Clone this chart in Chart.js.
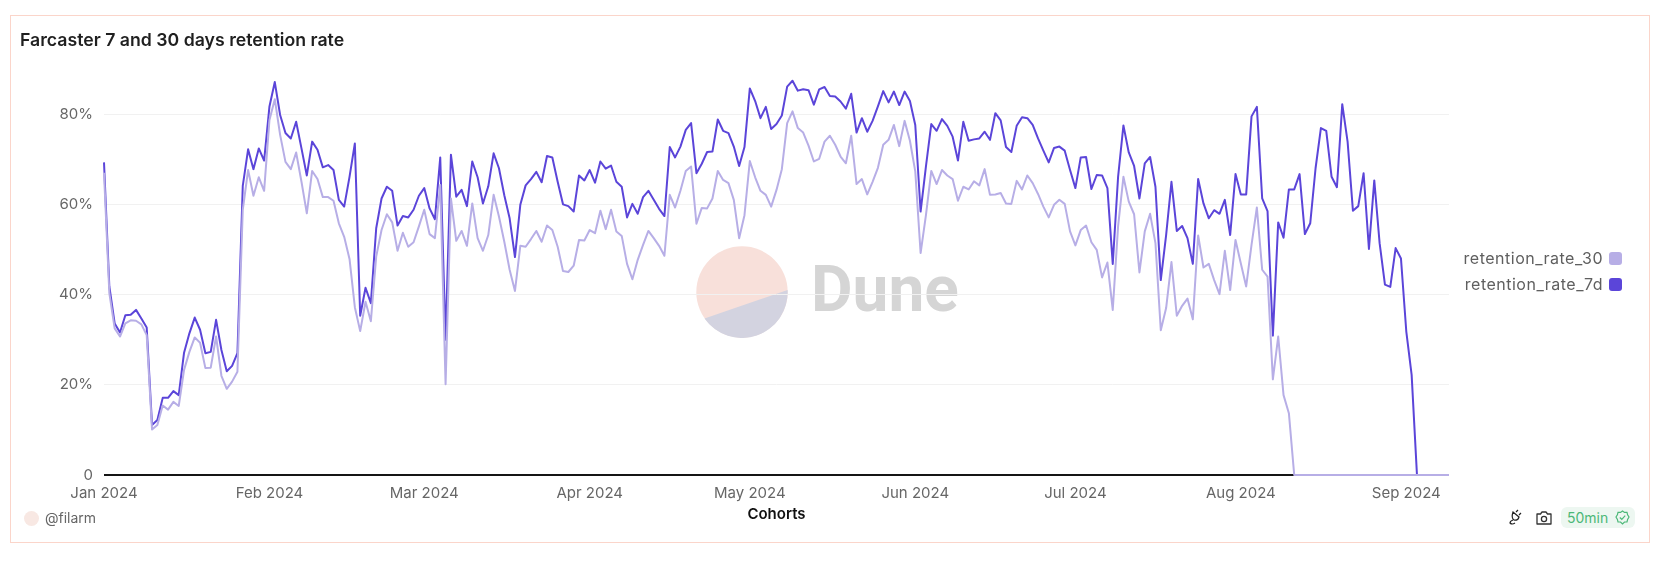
<!DOCTYPE html>
<html>
<head>
<meta charset="utf-8">
<title>Farcaster retention</title>
<script src="https://cdn.jsdelivr.net/npm/chart.js@4"></script>
<style>
  html, body { margin: 0; padding: 0; background: #fff; }
  body { width: 1672px; height: 562px; position: relative; overflow: hidden; font-family: Inter, sans-serif; }
  #frame { position: absolute; left: 10px; top: 15px; width: 1638px; height: 526px; border: 1px solid #fbd5ca; }
  #title { position: absolute; left: 20px; top: 30px; font-size: 17.7px; line-height: 20px; font-weight: 600; color: #1f1f1f; }
  #logo { position: absolute; left: 696px; top: 246px; }
  #dune { position: absolute; left: 811px; top: 251px; font-family: Roboto, sans-serif; font-size: 64px; line-height: 78px; font-weight: 700; color: #d5d5d5; }
  #chartBox { position: absolute; left: 0; top: 0; width: 1672px; height: 562px; }
  #legend { position: absolute; right: 50px; top: 245px; }
  .legend-row { display: flex; align-items: center; justify-content: flex-end; height: 26px; font-size: 16px; letter-spacing: 0.5px; color: #5f5f5f; }
  .legend-row i { display: block; width: 13px; height: 13px; border-radius: 3px; margin-left: 6px; }
  #owner { position: absolute; left: 24px; top: 510px; display: flex; align-items: center; font-size: 14px; line-height: 16px; color: #666; }
  #owner i { display: block; width: 15px; height: 15px; border-radius: 50%; background: #f8e8e3; margin-right: 6px; }
  #icons { position: absolute; left: 1507px; top: 507px; height: 21px; }
  #icons svg { position: absolute; }
  #badge { position: absolute; left: 1561px; top: 507px; width: 74px; height: 21px; border-radius: 6px; background: #edf7f1; color: #4cb878; font-size: 14px; line-height: 21px; padding-left: 6px; box-sizing: border-box; }
  #badge svg { position: absolute; right: 5px; top: 3px; }
</style>
</head>
<body>
<div id="frame"></div>
<svg id="logo" width="92" height="92" viewBox="0 0 92 92">
  <circle cx="46" cy="46" r="45.7" fill="#f8e0da"/>
  <path d="M91.6 44 A45.7 45.7 0 0 1 8.5 72.5 Z" fill="#d3d3e0"/>
</svg>
<div id="dune">Dune</div>
<div id="chartBox"><canvas id="retentionChart" width="1672" height="562"></canvas></div>
<div id="title">Farcaster 7 and 30 days retention rate</div>
<div id="legend"></div>
<div id="owner"><i></i>@filarm</div>
<div id="icons">
  <svg style="left:0;top:2px" width="16" height="17" viewBox="0 0 16 17" fill="none" stroke="#222" stroke-width="1.2">
    <path d="M6 3 L12 8 Q11 12 7 11 Q4 9 6 3 Z"/><path d="M9 3 L11 1 M12 6 L14 4"/><path d="M6 11 Q3 12 3 14 Q5 16 8 14"/>
  </svg>
  <svg style="left:28px;top:3px" width="18" height="16" viewBox="0 0 18 16" fill="none" stroke="#333" stroke-width="1.3">
    <path d="M2 4 H5.5 L7 2 H11 L12.5 4 H16 V14 H2 Z" stroke-linejoin="round"/><circle cx="9" cy="9" r="2.6"/>
  </svg>
</div>
<div id="badge">50min
  <svg width="15" height="15" viewBox="0 0 15 15" fill="none" stroke="#4cb878" stroke-width="1.2">
    <path d="M7.5 1 L9.5 2.4 L12 2.4 L12.6 4.8 L14 7 L12.6 9.4 L12 12 L9.5 12 L7.5 14 L5.5 12 L3 12 L2.4 9.4 L1 7 L2.4 4.8 L3 2.4 L5.5 2.4 Z"/><path d="M4.8 7.5 L6.8 9.3 L10.2 5.6"/>
  </svg>
</div>

<script>
// one value a day from 1 Jan 2024 to 9 Sep 2024
const startDate = new Date(Date.UTC(2024, 0, 1));

const retentionRate30 = [
  67, 40.3, 32.5, 30.7, 33.6, 34.3, 34.2, 33.4, 31, 10.1,
  11.1, 15.4, 14.5, 16.2, 15.3, 23.3, 27.3, 30.5, 29.3, 23.7,
  23.8, 30.7, 22, 19.1, 20.7, 22.9, 58.8, 67.6, 61.9, 66,
  63, 78.7, 83.3, 75.4, 69.4, 67.8, 71.5, 65, 58, 67.4,
  65.6, 61.6, 61.6, 60.8, 55.8, 52.8, 47.9, 37.2, 31.9, 38.4,
  34.1, 48.4, 54.3, 57.8, 56, 49.7, 53.7, 50.6, 51.6, 55.1,
  58.8, 53.4, 52.5, 64.3, 20.1, 61.3, 51.9, 54.1, 50.8, 60.2,
  52.5, 49.7, 53.2, 62.1, 57.3, 51.7, 45.5, 40.8, 50.8, 50.6,
  52.3, 54.1, 51.7, 55.3, 54.3, 50.6, 45.2, 45, 46.4, 52.1,
  52, 54.3, 53.6, 58.6, 54.5, 58.8, 54, 53, 46.8, 43.4,
  47.7, 51, 54.1, 52.5, 50.8, 48.6, 62.1, 59.3, 63, 67.4,
  68.4, 55.7, 59.2, 59.1, 61.3, 67.4, 65.4, 64.7, 61, 52.5,
  57.6, 69.6, 66, 63, 62.1, 59.5, 63.2, 67.8, 78, 80.6,
  76.9, 75.9, 73, 69.5, 70.1, 73.9, 75.2, 73.2, 70.6, 69.1,
  75.2, 64.5, 65.6, 62.2, 65, 68.1, 73.2, 74.3, 77.6, 72.9,
  78.5, 74.1, 67.3, 49.2, 57.6, 67.4, 64.5, 67.6, 66.4, 65.6,
  60.8, 63.9, 63.3, 65.1, 64.2, 67.8, 62.1, 62.2, 62.5, 60.2,
  60.1, 65.2, 63.3, 66.4, 64.7, 62.3, 59.5, 57.1, 59.9, 61,
  60.1, 54, 50.9, 54.3, 55.3, 51.6, 49.9, 43.8, 47.1, 36.6,
  55.1, 66.1, 60.6, 57.8, 44.9, 54, 57.9, 51.4, 32.1, 37,
  47.2, 35.3, 37.5, 39.1, 34.5, 53.1, 46, 46.8, 43.2, 40.1,
  49.7, 41, 52.1, 46.9, 41.8, 51, 59.3, 45.5, 44, 21.2,
  30.7, 17.7, 13.7, 0, 0, 0, 0, 0, 0, 0,
  0, 0, 0, 0, 0, 0, 0, 0, 0, 0,
  0, 0, 0, 0, 0, 0, 0, 0, 0, 0,
  0, 0, 0
];

const retentionRate7d = [
  69.3, 41.8, 33.6, 31.6, 35.4, 35.5, 36.6, 34.7, 32.7, 11.1,
  12.2, 17.1, 17.1, 18.6, 17.7, 27.1, 31.4, 34.9, 32.2, 27,
  27.3, 34.4, 27.7, 23, 24.2, 27, 64.1, 72.2, 67.8, 72.4,
  69.7, 81.7, 87.1, 79.8, 75.8, 74.6, 78.3, 72.4, 66.4, 73.9,
  72.1, 68.2, 68.7, 67.6, 61, 59.5, 66.1, 73.5, 35.3, 41.5,
  38.1, 54.7, 61.3, 63.9, 63, 55.3, 57.4, 57.1, 58.8, 61.9,
  63.6, 59.1, 56.7, 70.4, 30, 71, 61.7, 63.2, 59.6, 69.5,
  66, 60.2, 64, 71.3, 68, 62, 56.9, 48.3, 59.9, 64.2,
  65.6, 67.2, 64.9, 70.7, 70.4, 65, 60, 59.6, 58.4, 66.4,
  65.3, 67.6, 64.8, 69.5, 67.9, 68.6, 65, 63.9, 57.1, 60.1,
  57.9, 61.6, 63, 61, 59, 57.4, 72.7, 70.4, 72.8, 76.5,
  78, 66.9, 69, 71.6, 71.7, 78.8, 76.3, 75.8, 72.8, 68.5,
  72.7, 85.7, 82.9, 79.1, 81.6, 76.7, 77.8, 79.7, 86.1, 87.4,
  85.2, 85.5, 85.3, 82.1, 85.5, 86, 84, 83.9, 82.8, 81.2,
  84.5, 75.9, 79.1, 76.1, 78.5, 81.7, 85.1, 82.6, 85, 82,
  85, 82.9, 77.6, 58.4, 68.4, 77.8, 76.3, 78.9, 77.4, 75,
  69.7, 78.3, 74.1, 74.4, 74.6, 76.1, 74.3, 80.2, 78.6, 72.7,
  71.6, 77.4, 79.3, 79.1, 77.6, 74.6, 71.9, 69.3, 72.5, 72.8,
  71.9, 67.6, 63.6, 70.4, 70.5, 63.4, 66.5, 66.4, 63.6, 46.8,
  66.1, 77.5, 71.5, 68.5, 61.3, 69.1, 70.5, 63.9, 43.2, 53.2,
  65, 54.1, 55.2, 52.5, 46.8, 65.6, 60.2, 56.9, 58.7, 57.9,
  61, 53.2, 66.7, 62.2, 62.2, 79.5, 81.6, 61.3, 58.5, 30.9,
  56, 52.6, 63.3, 63.3, 66.7, 53.4, 55.8, 68, 76.9, 76.3,
  66.1, 63.8, 82.2, 73.9, 58.6, 59.6, 66.9, 50.1, 65.3, 51.4,
  42.2, 41.7, 50.3, 48, 31.8, 22.2, 0, 0, 0, 0,
  0, 0, 0
];

const categories = retentionRate7d.map((_, i) => {
  const d = new Date(startDate.getTime() + i * 86400000);
  return d.toISOString().split('T')[0];
});

const yTicks = [0, 20, 40, 60, 80];
const monthNames = ['Jan', 'Feb', 'Mar', 'Apr', 'May', 'Jun', 'Jul', 'Aug', 'Sep'];

const colour30 = '#b7aee6';
const colour7d = '#5b45d9';

function monthLabel(dateStr) {
  const parts = dateStr.split('-');
  if (parts[2] !== '01') return null;
  return monthNames[parseInt(parts[1]) - 1] + ' ' + parts[0];
}

const tickFont = { family: 'Inter', size: 15 };

const ctx = document.getElementById('retentionChart').getContext('2d');
const retentionChart = new Chart(ctx, {
  type: 'line',
  data: {
    labels: categories,
    datasets: [
      { label: 'retention_rate_30', data: retentionRate30, borderColor: colour30, backgroundColor: colour30, borderWidth: 2, clip: 4 },
      { label: 'retention_rate_7d', data: retentionRate7d, borderColor: colour7d, backgroundColor: colour7d, borderWidth: 2, clip: 4 }
    ]
  },
  options: {
    responsive: false,
    animation: false,
    layout: { padding: { top: 69, right: 223, bottom: 39, left: 0 } },
    elements: { point: { radius: 0 }, line: { tension: 0, borderJoinStyle: 'round' } },
    plugins: { legend: { display: false }, tooltip: { enabled: false } },
    scales: {
      x: {
        type: 'category',
        offset: false,
        grid: { display: false },
        border: { display: false },
        ticks: {
          autoSkip: false,
          maxRotation: 0,
          minRotation: 0,
          padding: 1,
          color: '#666',
          font: tickFont,
          callback: function (value) { return monthLabel(this.getLabelForValue(value)); }
        },
        title: { display: true, text: 'Cohorts', color: '#111', font: { family: 'Inter', size: 15, weight: '600' }, padding: 0 },
        afterFit: scale => { scale.height = 48; }
      },
      y: {
        min: 0,
        max: 90,
        afterBuildTicks: scale => { scale.ticks = yTicks.map(v => ({ value: v })); },
        grid: {
          drawTicks: false,
          color: c => c.tick.value === 0 ? '#151515' : '#f1f1f1',
          lineWidth: c => c.tick.value === 0 ? 2 : 1
        },
        border: { display: false },
        ticks: {
          padding: 11,
          color: '#666',
          font: tickFont,
          callback: v => v === 0 ? '0' : v + '%'
        },
        afterFit: scale => { scale.width = 104; }
      }
    }
  }
});

// legenda
const legendBox = document.getElementById('legend');
retentionChart.data.datasets.forEach(ds => {
  const row = document.createElement('div');
  row.className = 'legend-row';
  row.textContent = ds.label;
  const swatch = document.createElement('i');
  swatch.style.background = ds.borderColor;
  row.appendChild(swatch);
  legendBox.appendChild(row);
});
</script>
</body>
</html>
